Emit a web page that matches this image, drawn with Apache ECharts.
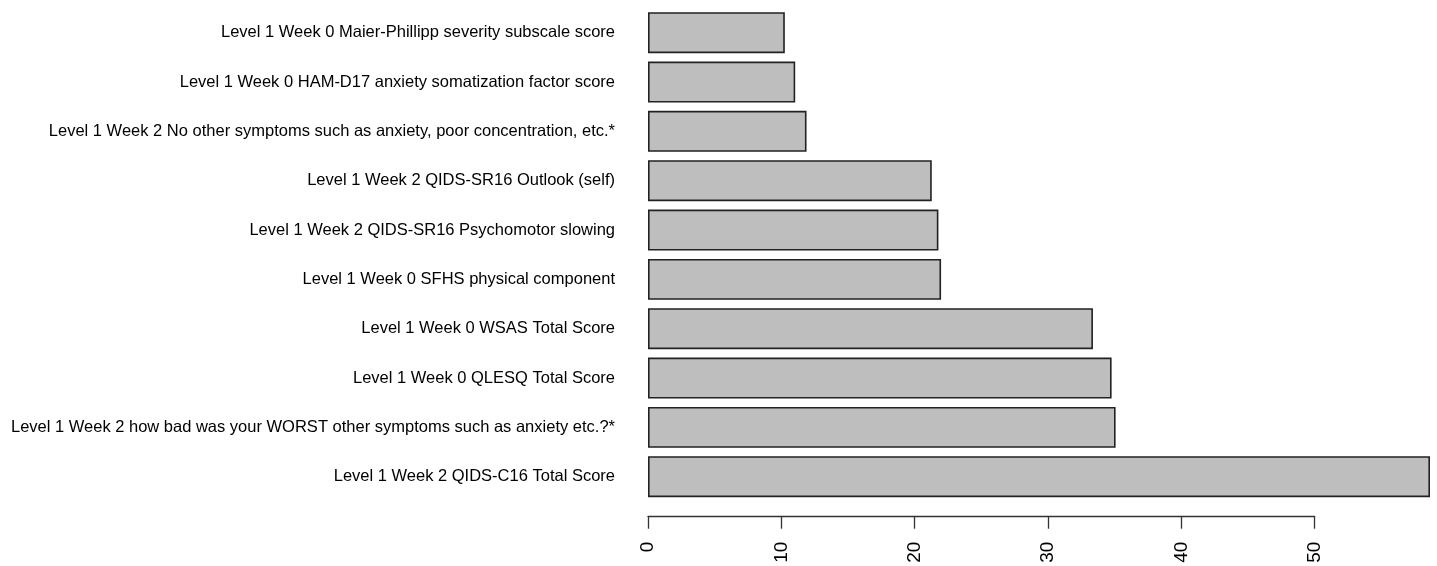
<!DOCTYPE html>
<html>
<head>
<meta charset="utf-8">
<script src="https://cdn.jsdelivr.net/npm/echarts@6/dist/echarts.min.js"></script>
<style>
html,body{margin:0;padding:0;background:#fff;}
#chart{width:1437px;height:566px;}
</style>
</head>
<body>
<div id="chart"></div>
<script>
const categories = [
  "Level 1 Week 0 Maier-Phillipp severity subscale score",
  "Level 1 Week 0 HAM-D17 anxiety somatization factor score",
  "Level 1 Week 2 No other symptoms such as anxiety, poor concentration, etc.*",
  "Level 1 Week 2 QIDS-SR16 Outlook (self)",
  "Level 1 Week 2 QIDS-SR16 Psychomotor slowing",
  "Level 1 Week 0 SFHS physical component",
  "Level 1 Week 0 WSAS Total Score",
  "Level 1 Week 0 QLESQ Total Score",
  "Level 1 Week 2 how bad was your WORST other symptoms such as anxiety etc.?*",
  "Level 1 Week 2 QIDS-C16 Total Score"
];
const values = [10.27, 11.05, 11.9, 21.3, 21.8, 22.0, 33.4, 34.8, 35.1, 58.7];
const tickLabels = ["0", "10", "20", "30", "40", "50"];
const tickMin = 0, tickMax = 50, tickStep = 10;

const chart = echarts.init(document.getElementById('chart'), null, {renderer: 'canvas'});
const font = "'Liberation Sans', Arial, sans-serif";
chart.setOption({
  animation: false,
  backgroundColor: '#ffffff',
  grid: [
    {left: 648, right: 7, top: 8, bottom: 64.6},
    {left: 648, right: 122.3, top: 500, bottom: 49.3}
  ],
  xAxis: [
    {gridIndex: 0, type: 'value', min: 0, max: Math.max(...values), show: false},
    {gridIndex: 1, type: 'value', min: tickMin, max: tickMax, interval: tickStep,
      axisLine: {show: true, lineStyle: {color: '#333', width: 1.3}},
      axisTick: {show: true, length: 12, lineStyle: {color: '#333', width: 1.3}},
      splitLine: {show: false},
      axisLabel: {rotate: 90, margin: 25, fontSize: 19, color: '#000', fontFamily: font,
        formatter: function (v) { const i = Math.round((v - tickMin) / tickStep); return tickLabels[i] !== undefined ? tickLabels[i] : ''; }}
    }
  ],
  yAxis: [
    {gridIndex: 0, type: 'category', data: categories, inverse: true,
      axisLine: {show: false}, axisTick: {show: false}, splitLine: {show: false},
      axisLabel: {margin: 33, fontSize: 16.5, color: '#000', fontFamily: font, padding: [6, 0, 0, 0]}
    },
    {gridIndex: 1, type: 'value', show: false}
  ],
  series: [{
    type: 'bar',
    xAxisIndex: 0, yAxisIndex: 0,
    data: values,
    barCategoryGap: '17%',
    itemStyle: {color: '#bebebe', borderColor: '#222', borderWidth: 1.6}
  }]
});
</script>
</body>
</html>
